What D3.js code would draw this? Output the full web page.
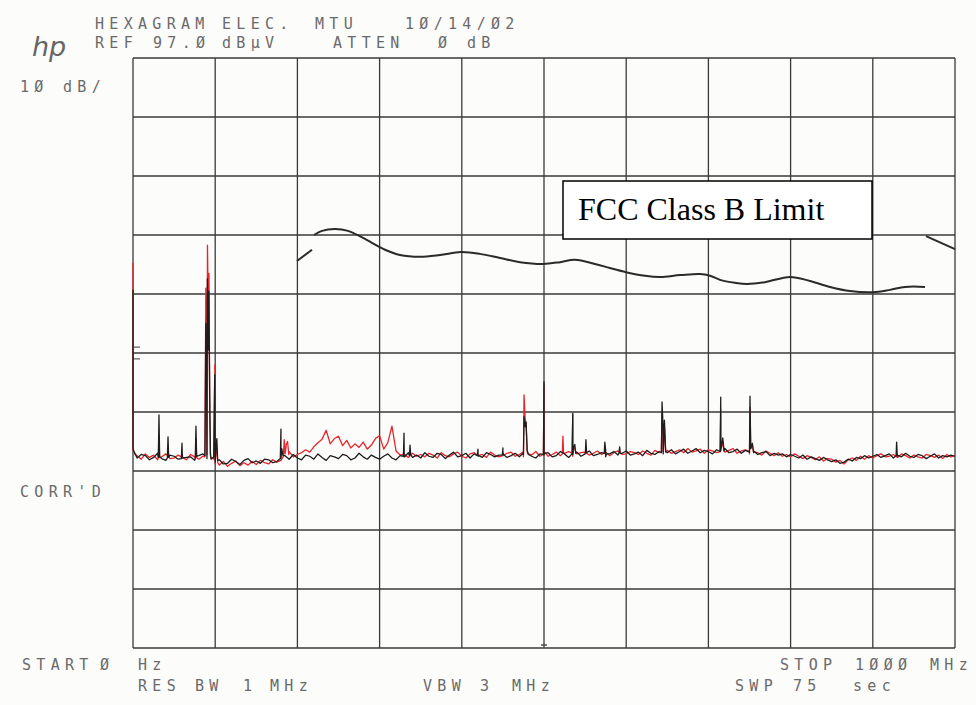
<!DOCTYPE html>
<html>
<head>
<meta charset="utf-8">
<script src="https://cdn.jsdelivr.net/npm/d3@7"></script>
<style>
  body { margin: 0; background: #fcfcfb; }
  svg { display: block; }
  .plot-text { font-family: 'DejaVu Sans Mono', monospace; font-size: 15px; fill: #6a6a6a; letter-spacing: 5.3px; }
</style>
</head>
<body>
<svg width="976" height="705"></svg>
<script>
// frequency axis (MHz) and amplitude axis (dBuV, REF 97.0, 10 dB/div)
const freqTicks = d3.range(0, 1001, 100);
const ampTicks = d3.range(-3, 98, 10);

// sweep floor, one reading every 5 MHz from 0 to 1000 MHz
const floorStep = 5;
const blackFloor = [
    30.8, 29.2, 29.8, 29.6, 28.9, 29.3, 30.0, 29.1, 28.8, 29.7,
    29.5, 29.0, 29.9, 29.3, 29.4, 28.8, 29.6, 29.9, 29.1, 29.0,
    28.5, 28.9, 28.2, 28.3, 29.0, 28.6, 28.1, 28.8, 29.1, 28.4,
    28.7, 28.3, 29.0, 28.9, 28.4, 28.6, 29.1, 29.6, 29.0, 29.8,
    29.2, 28.9, 29.7, 29.5, 29.0, 29.9, 29.3, 28.8, 29.6, 29.4,
    29.1, 29.8, 29.6, 28.9, 29.2, 30.0, 29.4, 29.0, 29.7, 29.3,
    29.0, 29.5, 29.9, 29.2, 28.9, 29.6, 29.4, 30.1, 29.3, 29.7,
    29.2, 30.1, 29.5, 29.3, 30.0, 29.8, 29.1, 29.7, 30.2, 29.4,
    29.6, 30.0, 29.2, 29.9, 29.5, 29.3, 30.1, 29.8, 29.4, 29.7,
    30.2, 29.3, 29.6, 30.0, 29.4, 29.8, 30.3, 29.5, 29.2, 29.9,
    29.7, 30.1, 29.4, 29.6, 30.3, 29.9, 29.3, 29.8, 30.2, 29.5,
    29.9, 30.4, 29.6, 29.8, 30.1, 29.4, 29.9, 30.3, 29.7, 30.0,
    30.4, 29.7, 29.9, 30.2, 29.6, 30.5, 30.0, 29.8, 30.3, 29.9,
    30.1, 30.6, 29.9, 30.3, 30.7, 30.0, 30.4, 30.8, 30.1, 30.5,
    30.3, 29.9, 30.6, 30.4, 30.8, 30.1, 30.3, 30.7, 30.0, 30.5,
    30.2, 30.4, 29.8, 30.1, 30.3, 29.6, 30.0, 29.7, 29.9, 29.4,
    29.8, 29.5, 29.2, 29.7, 29.0, 29.4, 29.1, 28.8, 29.3, 28.9,
    28.6, 28.9, 28.3, 28.5, 29.0, 28.7, 29.3, 29.1, 29.6, 29.2,
    29.5, 29.8, 29.3, 29.6, 29.9, 29.2, 29.7, 29.4, 30.0, 29.5,
    29.3, 29.8, 29.6, 29.1, 29.5, 29.9, 29.2, 29.6, 29.4, 29.7, 29.5
];
const redFloor = [
    30.5, 29.6, 29.0, 29.9, 29.3, 29.7, 28.9, 29.4, 29.9, 29.1,
    29.2, 29.7, 29.3, 28.9, 29.8, 29.4, 29.0, 29.5, 29.8, 29.2,
    28.2, 28.0, 28.6, 27.8, 28.3, 28.7, 27.9, 28.4, 28.0, 28.6,
    28.1, 28.8, 28.4, 28.2, 28.9, 28.5, 28.8, 29.9, 30.3, 29.4,
    29.8, 30.1, 30.6, 30.2, 31.1, 31.8, 32.4, 33.9, 31.6, 32.5,
    32.9, 31.3, 32.2, 30.9, 31.6, 31.0, 31.9, 30.7, 31.4, 32.5,
    33.0, 30.7, 31.8, 34.6, 30.4, 29.7, 29.9, 29.3, 30.0, 29.5,
    29.8, 29.4, 30.0, 29.7, 29.2, 30.1, 29.6, 29.4, 29.9, 30.2,
    29.5, 29.2, 29.9, 30.1, 29.6, 29.8, 29.3, 30.2, 29.7, 29.4,
    29.6, 30.0, 30.2, 29.5, 29.8, 29.4, 30.0, 29.7, 30.3, 29.5,
    30.0, 29.5, 29.8, 30.2, 29.6, 30.0, 30.3, 29.5, 29.9, 30.1,
    30.2, 29.7, 30.0, 30.4, 29.8, 30.2, 29.6, 30.1, 30.4, 29.8,
    29.9, 30.3, 30.1, 29.8, 30.4, 30.0, 29.7, 30.5, 30.1, 30.3,
    30.5, 30.0, 30.3, 30.6, 30.1, 30.8, 30.2, 30.4, 30.7, 30.0,
    30.6, 30.4, 30.1, 30.7, 30.2, 30.5, 30.8, 30.0, 30.4, 30.6,
    29.9, 30.3, 30.1, 29.7, 30.4, 30.0, 29.6, 30.1, 29.5, 29.8,
    29.4, 29.9, 29.5, 29.1, 29.6, 29.3, 28.9, 29.4, 28.7, 29.1,
    29.0, 28.5, 28.8, 28.2, 28.9, 29.2, 28.8, 29.5, 29.0, 29.6,
    29.2, 29.6, 29.9, 29.4, 29.5, 29.8, 29.3, 29.9, 29.6, 29.2,
    29.7, 29.4, 29.2, 29.8, 29.6, 29.3, 29.7, 29.1, 29.8, 29.4, 29.6
];

// emissions: [MHz, dBuV]
const blackSpikes = [
    [0, 57.7], [1.5, 30.2],
    [30.8, 29.3], [31.6, 36.5], [32.4, 29.4],
    [41.8, 29.2], [42.6, 32.8], [43.4, 29.3],
    [58.8, 29.1], [59.6, 31.7], [60.4, 29.2],
    [75.8, 29.2], [76.6, 34.6], [77.4, 29.5],
    [87.5, 29.6], [88.6, 52.0], [89.5, 44.0], [90.5, 59.6], [91.4, 47.5], [92.3, 57.5], [93.3, 40.0],
    [94.2, 29.8], [98.2, 29.4], [99.4, 43.3], [100.6, 30.2], [102.0, 32.5], [103.0, 28.8],
    [179.2, 29.1], [180, 34.1], [181, 30.8], [182.5, 29.6],
    [329, 29.5], [329.7, 33.4], [330.6, 29.4],
    [336.3, 29.6], [337, 31.4], [337.8, 29.8],
    [419, 29.6], [419.7, 30.7], [420.5, 29.6],
    [449.3, 29.7], [450, 30.9], [450.8, 29.8],
    [474.5, 30.0], [475.7, 36.2], [477, 34.5], [478.2, 35.3], [479.5, 30.4], [481, 29.8],
    [499.3, 29.8], [500, 42.1], [500.8, 30.0],
    [534.2, 29.9], [535, 36.8], [536, 31.0], [537.5, 31.5], [538.5, 30.0],
    [550.3, 30.0], [551, 32.3], [551.8, 30.1],
    [573.3, 30.0], [574, 31.9], [575, 30.6], [576, 29.9],
    [591.3, 30.1], [592, 31.1], [592.8, 30.0],
    [642.8, 30.1], [643.6, 38.7], [645, 34.0], [646.5, 35.6], [648, 30.3],
    [714.3, 30.3], [715, 39.5], [716, 31.5], [717.5, 32.6], [719, 30.4],
    [749.9, 30.2], [750.6, 39.7], [751.5, 30.8], [753.5, 31.7], [755, 30.1],
    [928.3, 29.6], [929, 31.9], [929.8, 29.5]
];
const redSpikes = [
    [0, 62.3], [1.5, 30.0],
    [30.8, 29.2], [31.6, 33.0], [32.4, 29.3],
    [75.8, 29.1], [76.6, 32.5], [77.4, 29.3],
    [87.5, 29.4], [88.6, 58.0], [89.6, 50.0], [90.6, 65.3], [91.5, 55.0], [92.4, 60.5], [93.4, 36.0],
    [94.3, 29.5], [98.4, 29.0], [99.6, 45.0], [100.8, 31.0], [102.2, 30.0], [103.2, 28.4],
    [183, 29.5], [184, 32.3], [186.5, 31.5], [188, 32.0], [189.5, 29.8],
    [474.5, 30.2], [475.7, 39.9], [477, 36.0], [478.2, 35.0], [479.5, 30.5],
    [499.3, 29.8], [500, 41.5], [500.8, 30.2],
    [522.3, 29.9], [523, 32.9], [523.8, 30.0],
    [534.2, 30.0], [535, 36.5], [536, 31.2],
    [642.8, 30.2], [643.6, 37.0], [645, 33.0], [646.5, 34.5], [648, 30.2],
    [714.3, 30.3], [715, 37.5], [716, 31.0], [717.5, 32.0], [719, 30.4],
    [749.9, 30.3], [750.6, 37.8], [751.5, 30.8], [753.5, 31.2], [755, 30.2]
];

// FCC Class B limit line, drawn in three pieces
const limitSegments = [
    [[199.5, 62.6], [217.8, 64.5]],
    [[220.2, 67.0], [229.9, 67.7], [245.7, 68.0], [261.6, 67.7], [279.8, 66.5], [306.6, 64.5],
     [324.8, 63.6], [349.1, 63.3], [373.5, 63.6], [399.0, 64.1], [422.1, 63.8], [446.5, 63.1],
     [470.8, 62.4], [498.8, 62.1], [519.5, 62.4], [537.7, 62.8], [562.0, 62.1], [580.3, 61.4],
     [599.8, 60.7], [622.9, 60.1], [641.1, 59.9], [665.5, 60.2], [689.8, 60.4], [702.0, 60.1],
     [714.1, 59.4], [732.4, 58.9], [747.0, 58.7], [768.9, 59.0], [799.3, 59.9], [823.6, 59.2],
     [847.9, 58.2], [872.3, 57.5], [900.2, 57.3], [920.9, 57.7], [939.2, 58.2], [963.5, 58.2]],
    [[964.7, 66.8], [1000, 64.6]]
];
const legendLabel = 'FCC Class B Limit';

const svg = d3.select('svg');

const x = d3.scaleLinear().domain([0, 1000]).range([133, 955]);
const y = d3.scaleLinear().domain([-3, 97]).range([648, 58]);

// grid
const grid = svg.append('g').attr('class', 'grid')
    .attr('stroke', '#3a3a3a')
    .attr('stroke-width', 1.3);

grid.selectAll('.vline')
    .data(freqTicks)
    .enter()
    .append('line')
    .attr('x1', d => x(d)).attr('x2', d => x(d))
    .attr('y1', y(97)).attr('y2', y(-3));

grid.selectAll('.hline')
    .data(ampTicks)
    .enter()
    .append('line')
    .attr('x1', x(0)).attr('x2', x(1000))
    .attr('y1', d => y(d)).attr('y2', d => y(d));

// small marks on the left edge and the centre of the bottom edge
grid.selectAll('.mark')
    .data([48.0, 46.0])
    .enter()
    .append('line')
    .attr('stroke-width', 1)
    .attr('x1', x(0)).attr('x2', x(0) + 7)
    .attr('y1', d => y(d)).attr('y2', d => y(d));
grid.append('line')
    .attr('x1', x(500) - 3).attr('x2', x(500) + 3)
    .attr('y1', y(-3) - 3).attr('y2', y(-3) - 3);

function traceOf(floor, spikes) {
    const pts = spikes.concat(floor.map((v, i) => [i * floorStep, v]));
    return pts.sort((a, b) => a[0] - b[0]);
}

const line = d3.line()
    .x(d => x(d[0]))
    .y(d => y(d[1]));

svg.append('path')
    .datum(traceOf(redFloor, redSpikes))
    .attr('fill', 'none')
    .attr('stroke', '#e8252b')
    .attr('stroke-width', 1.3)
    .attr('stroke-linejoin', 'round')
    .attr('d', line);

svg.append('path')
    .datum(traceOf(blackFloor, blackSpikes))
    .attr('fill', 'none')
    .attr('stroke', '#1e1e1e')
    .attr('stroke-width', 1.3)
    .attr('stroke-linejoin', 'round')
    .attr('d', line);

const limitLine = d3.line()
    .x(d => x(d[0]))
    .y(d => y(d[1]))
    .curve(d3.curveCatmullRom);

svg.append('g')
    .selectAll('path')
    .data(limitSegments)
    .enter()
    .append('path')
    .attr('fill', 'none')
    .attr('stroke', '#2a2a2a')
    .attr('stroke-width', 2)
    .attr('d', limitLine);

// legend box
const legend = svg.append('g').attr('transform', 'translate(563,181)');
legend.append('rect')
    .attr('width', 309)
    .attr('height', 58)
    .attr('fill', '#fff')
    .attr('stroke', '#000')
    .attr('stroke-width', 1.5);
legend.append('text')
    .attr('x', 15)
    .attr('y', 39)
    .style('font-family', "'Liberation Serif', 'Times New Roman', serif")
    .style('font-size', '32px')
    .attr('fill', '#000')
    .text(legendLabel);

// plotter annotations
const words = [
    ['HEXAGRAM', 95, 29], ['ELEC.', 222, 29], ['MTU', 315, 29], ['10/14/02', 405, 29],
    ['REF', 95, 48], ['97.0', 153, 48], ['dBµV', 222, 48],
    ['ATTEN', 333, 48], ['0', 438, 48], ['dB', 467, 48],
    ['10', 20, 92], ['dB/', 63, 92],
    ['CORR\'D', 20, 497],
    ['START', 22, 670], ['0', 100, 670], ['Hz', 138, 670],
    ['RES', 138, 691], ['BW', 195, 691], ['1', 243, 691], ['MHz', 270, 691],
    ['VBW', 423, 691], ['3', 480, 691], ['MHz', 512, 691],
    ['STOP', 780, 670], ['1000', 855, 670], ['MHz', 930, 670],
    ['SWP', 735, 691], ['75', 793, 691], ['sec', 853, 691]
];
svg.append('g')
    .selectAll('text')
    .data(words)
    .enter()
    .append('text')
    .attr('class', 'plot-text')
    .attr('x', d => d[1])
    .attr('y', d => d[2])
    .text(d => d[0].replace(/0/g, 'Ø'));

svg.append('text')
    .attr('x', 32)
    .attr('y', 56)
    .style('font-family', "'DejaVu Sans', sans-serif")
    .style('font-style', 'italic')
    .style('font-size', '27px')
    .attr('fill', '#666')
    .text('hp');
</script>
</body>
</html>
